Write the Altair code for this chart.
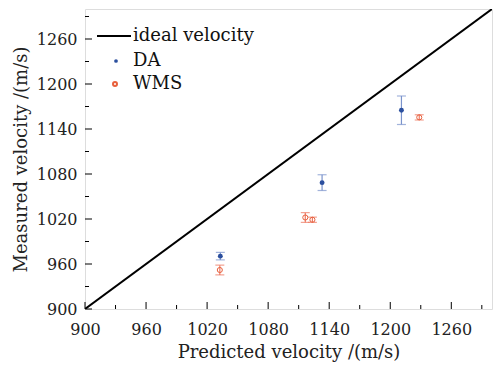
import altair as alt
import pandas as pd

# data
da_pred = [1033, 1133, 1211]
da_meas = [970.5, 1068.5, 1165]
da_err = [5, 10.5, 19]

wms_pred = [1032.5, 1116.5, 1123.5, 1228.5]
wms_meas = [952, 1022, 1019, 1155.5]
wms_err = [6.5, 6.5, 3.5, 3.5]

ideal = [900, 1300]
major_ticks = [900, 960, 1020, 1080, 1140, 1200, 1260]
minor_ticks = [930, 990, 1050, 1110, 1170, 1230, 1290]
legend_labels = ["ideal velocity", "DA", "WMS"]

FONT = "DejaVu Serif"
W, H = 407, 300
dom = [900, 1300]

da = pd.DataFrame({"x": da_pred, "y": da_meas,
                   "lo": [m - e for m, e in zip(da_meas, da_err)],
                   "hi": [m + e for m, e in zip(da_meas, da_err)]})
wms = pd.DataFrame({"x": wms_pred, "y": wms_meas,
                    "lo": [m - e for m, e in zip(wms_meas, wms_err)],
                    "hi": [m + e for m, e in zip(wms_meas, wms_err)]})
line_df = pd.DataFrame({"x": ideal, "y": ideal})

xs = alt.Scale(domain=dom, nice=False, zero=False)
ys = alt.Scale(domain=dom, nice=False, zero=False)

x_axis = alt.Axis(values=major_ticks, ticks=False, domain=False, grid=False,
                  title="Predicted velocity /(m/s)", labelPadding=12, labelFlush=False,
                  labelFont=FONT, labelFontSize=16, labelColor="#222",
                  titleFont=FONT, titleFontSize=18, titleFontWeight="normal",
                  titleColor="#222", titlePadding=6, format="d")
y_axis = alt.Axis(values=major_ticks, ticks=False, domain=False, grid=False,
                  title="Measured velocity /(m/s)", labelPadding=8, labelFlush=False,
                  labelFont=FONT, labelFontSize=16, labelColor="#222",
                  titleFont=FONT, titleFontSize=18, titleFontWeight="normal",
                  titleColor="#222", titlePadding=6, format="d")

base_line = alt.Chart(line_df).mark_line(color="black", strokeWidth=2, clip=True).encode(
    x=alt.X("x:Q", scale=xs, axis=x_axis),
    y=alt.Y("y:Q", scale=ys, axis=y_axis),
)

def errbars(df, color):
    r = alt.Chart(df).mark_rule(color=color, strokeWidth=1.2).encode(
        x="x:Q", y="lo:Q", y2="hi:Q")
    t1 = alt.Chart(df).mark_tick(color=color, orient="horizontal", size=9, thickness=1.2).encode(
        x="x:Q", y="lo:Q")
    t2 = alt.Chart(df).mark_tick(color=color, orient="horizontal", size=9, thickness=1.2).encode(
        x="x:Q", y="hi:Q")
    return r + t1 + t2

da_color = "#2b4f9e"
da_bar = "#7a93cc"
wms_color = "#e8603c"
wms_bar = "#ee7a64"

da_pts = alt.Chart(da).mark_point(filled=True, shape="circle", size=24, color=da_color, opacity=1).encode(
    x="x:Q", y="y:Q")
wms_pts = alt.Chart(wms).mark_point(filled=False, shape="circle", size=26, color=wms_color,
                                    strokeWidth=1, opacity=1).encode(x="x:Q", y="y:Q")

# inward ticks
maj = pd.DataFrame({"t": major_ticks})
mnr = pd.DataFrame({"t": minor_ticks})
xmaj = alt.Chart(maj).mark_rule(color="black").encode(x="t:Q", y=alt.value(H), y2=alt.value(H - 7))
xmin = alt.Chart(mnr).mark_rule(color="black").encode(x="t:Q", y=alt.value(H), y2=alt.value(H - 4))
ymaj = alt.Chart(maj).mark_rule(color="black").encode(y="t:Q", x=alt.value(0), x2=alt.value(7))
ymin = alt.Chart(mnr).mark_rule(color="black").encode(y="t:Q", x=alt.value(0), x2=alt.value(4))

# legend
one = pd.DataFrame({"a": [0]})
leg_line = alt.Chart(one).mark_rule(color="black", strokeWidth=2).encode(
    x=alt.value(12), x2=alt.value(46), y=alt.value(27))
leg_da = alt.Chart(one).mark_point(filled=True, shape="circle", size=14,
                                   color=da_color, opacity=1).encode(
    x=alt.value(31), y=alt.value(52))
leg_wms = alt.Chart(one).mark_point(filled=False, shape="circle", size=16,
                                    color=wms_color, opacity=1).encode(
    x=alt.value(30), y=alt.value(75))
leg_texts = []
for lab, yy in zip(legend_labels, [27, 52, 75]):
    leg_texts.append(alt.Chart(one).mark_text(
        align="left", baseline="middle", font=FONT, fontSize=18, color="#111", text=lab
    ).encode(x=alt.value(48), y=alt.value(yy)))

chart = alt.layer(
    base_line, errbars(da, da_bar), errbars(wms, wms_bar), da_pts, wms_pts,
    xmaj, xmin, ymaj, ymin, leg_line, leg_da, leg_wms, *leg_texts
).properties(
    width=W, height=H,
    autosize=alt.AutoSizeParams(type="none"),
    padding={"left": 85, "top": 9, "right": 11, "bottom": 58},
).configure_view(stroke="black", strokeWidth=1.2).configure(background="white")

chart.save("out.html", embed_options={"renderer": "svg", "actions": False})
